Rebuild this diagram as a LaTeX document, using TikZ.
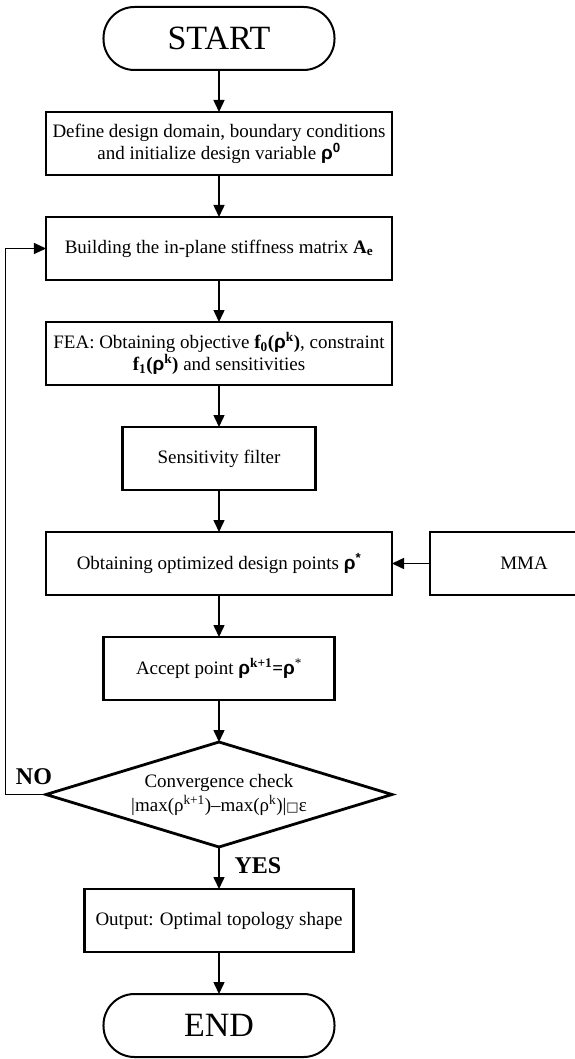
\documentclass[tikz,border=0pt]{standalone}
\usepackage{fontspec}
\setmainfont{Liberation Serif}
\newfontfamily\rhofont{Liberation Sans}
\newfontfamily\glyphfont{DejaVu Sans}
\usetikzlibrary{shapes.geometric,arrows.meta,positioning,calc}
\newcommand{\brho}{{\rhofont\bfseries ρ}}
\newcommand{\bsup}[1]{\textsuperscript{\bfseries #1}}
\tikzset{
    terminal/.style={rectangle, rounded corners=31pt, draw, line width=2pt, minimum width=231pt, minimum height=63pt, outer sep=0pt, font=\fontsize{34}{38}\selectfont},
    stepbox/.style={rectangle, draw, line width=2.8pt, minimum height=63pt, outer sep=0pt, align=center, font=\fontsize{19}{22}\selectfont},
    decision/.style={diamond, draw, line width=2.8pt, aspect=3.3, minimum width=346pt, minimum height=105pt, inner sep=0pt, outer sep=0pt, align=center, font=\fontsize{19}{24}\selectfont},
    flow/.style={-{Triangle[length=12pt,width=11pt]}, line width=1.5pt},
    back/.style={-{Triangle[length=12pt,width=11pt]}, line width=1pt},
    answer/.style={font=\fontsize{24}{28}\selectfont\bfseries},
}

\begin{document}
\begin{tikzpicture}[node distance=42pt]
    \useasboundingbox (-219pt,38.5pt) rectangle (355pt,-1020.5pt);
    \node[terminal] (start) {START};
    \node[stepbox, minimum width=346pt, below=of start] (define) {Define design domain, boundary conditions\\and initialize design variable \brho\bsup{\rhofont 0}};
    \node[stepbox, minimum width=346pt, below=of define] (build) {Building the in-plane stiffness matrix \textbf{A\textsubscript{e}}};
    \node[stepbox, minimum width=346pt, below=of build] (fea) {FEA: Obtaining objective \textbf{f\textsubscript{0}(}\brho\bsup{k}\textbf{)}, constraint\\\textbf{f\textsubscript{1}(}\brho\bsup{k}\textbf{)} and sensitivities};
    \node[stepbox, minimum width=193pt, below=of fea] (filter) {Sensitivity filter};
    \node[stepbox, minimum width=346pt, below=of filter] (opt) {Obtaining optimized design points \brho\bsup{\rhofont *}};
    \node[stepbox, minimum width=188pt, right=38pt of opt] (mma) {MMA};
    \node[stepbox, minimum width=231pt, below=of opt] (accept) {Accept point \brho\bsup{k+1}\textbf{=}\brho\textsuperscript{*}};
    \node[decision, below=of accept] (check) {Convergence check\\|max(ρ\textsuperscript{k+1})–max(ρ\textsuperscript{k})|{\glyphfont\fontsize{13}{14}\selectfont □}ε};
    \node[stepbox, minimum width=269pt, below=of check] (output) {Output: Optimal topology shape};
    \node[terminal, below=of output] (end) {END};

    \node[answer] (no) at ([shift={(-12pt,18pt)}]check.west) {NO};
    \node[answer] (yes) at ([shift={(39pt,-19pt)}]check.south) {YES};

    \draw[flow] (start) -- (define);
    \draw[flow] (define) -- (build);
    \draw[flow] (build) -- (fea);
    \draw[flow] (fea) -- (filter);
    \draw[flow] (filter) -- (opt);
    \draw[flow] (mma) -- (opt);
    \draw[flow] (opt) -- (accept);
    \draw[flow] (accept) -- (check);
    \draw[flow] (check) -- (output);
    \draw[flow] (output) -- (end);
    \draw[back] (check.west) -- ++(-40pt,0) |- (build.west);
\end{tikzpicture}
\end{document}
